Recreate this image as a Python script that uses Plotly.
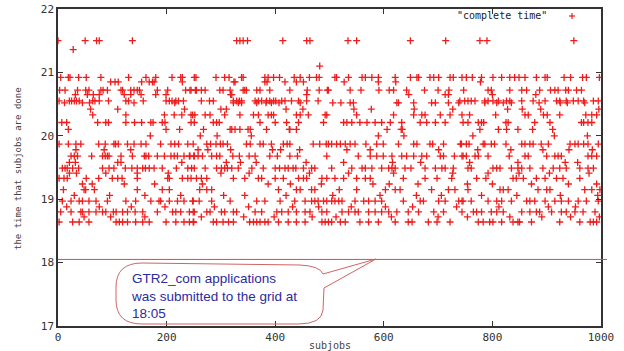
import plotly.graph_objects as go

# ---- data: subjob indices grouped by completion time (hours) ----
L_21_50 = [0, 50, 71, 76, 137, 329, 335, 341, 349, 414, 458, 464, 534, 550, 649, 714, 777, 790, 950]
L_21_36 = [28]
L_21_10 = [482]
L_20_92 = [5, 19, 22, 38, 52, 79, 130, 162, 180, 210, 226, 229, 251, 254, 291, 307, 315, 338, 341, 381, 387,
           397, 408, 435, 446, 463, 476, 481, 510, 513, 535, 560, 566, 578, 590, 621, 649, 661, 664, 685, 692,
           701, 722, 728, 744, 752, 763, 780, 801, 817, 832, 841, 849, 860, 881, 897, 901, 932, 944, 966, 973, 997]
L_20_85 = [97, 105, 111, 154, 168, 174, 177, 229, 324, 326, 381, 385, 418, 439, 452, 527, 590, 622, 778]
L_20_72 = [3, 13, 36, 51, 57, 79, 83, 91, 116, 119, 134, 140, 146, 150, 183, 202, 235, 243, 245, 253, 255, 264,
           271, 298, 304, 317, 341, 344, 347, 366, 372, 390, 427, 459, 481, 496, 498, 538, 558, 591, 610, 618,
           642, 675, 700, 720, 747, 792, 798, 832, 854, 863, 887, 907, 915, 921, 935, 940, 955, 964]
L_20_65 = [32, 54, 65, 76, 122, 134, 153, 180, 199, 318, 320, 458, 646, 713, 719, 800, 880]
L_20_55 = [2, 21, 25, 30, 34, 39, 64, 68, 76, 93, 125, 130, 157, 199, 205, 210, 217, 222, 231, 264, 279, 286,
           323, 329, 334, 338, 363, 369, 375, 384, 390, 397, 401, 412, 418, 430, 443, 458, 479, 740, 749, 755,
           761, 768, 786, 792, 801, 811, 826, 832, 854, 875, 897, 918, 924, 936, 949, 958, 968, 986, 995]
L_20_52 = [12, 45, 58, 140, 215, 323, 332, 338, 366, 383, 393, 407, 446, 506, 521, 538, 544, 624, 627, 655, 688,
           695, 719, 738, 786, 808, 820, 835, 886, 925, 938, 970]
L_20_42 = [60, 110, 233, 300, 310, 420, 451, 545, 577, 656, 727, 828, 855, 889, 996]
L_20_33 = [64, 125, 196, 214, 228, 245, 248, 252, 271, 280, 307, 335, 360, 369, 387, 393, 397, 439, 446, 461,
           492, 495, 550, 618, 655, 670, 676, 704, 722, 744, 758, 806, 860, 866, 894, 901, 924, 972, 983, 992]
L_20_21 = [7, 16, 73, 88, 93, 125, 141, 154, 171, 175, 192, 197, 245, 251, 286, 292, 297, 372, 400, 421, 443,
           489, 526, 532, 541, 556, 569, 584, 596, 612, 633, 667, 679, 695, 713, 746, 755, 774, 780, 784, 825,
           829, 878, 906, 964, 968, 976, 983]
L_20_10 = [19, 199, 224, 268, 317, 320, 326, 335, 350, 354, 384, 426, 427, 439, 606, 632, 634, 777, 811, 826,
           847, 874, 911]
L_20_00 = [170, 262, 293, 356, 590, 637, 764, 914, 975]
L_19_87 = [2, 19, 33, 42, 75, 87, 103, 106, 111, 128, 140, 153, 162, 189, 208, 215, 222, 239, 249, 274, 281,
           291, 299, 304, 312, 347, 354, 372, 378, 393, 415, 422, 427, 470, 482, 494, 498, 504, 513, 520, 529,
           538, 547, 567, 587, 599, 627, 655, 661, 685, 690, 710, 741, 743, 752, 757, 783, 786, 798, 804, 825,
           854, 860, 869, 875, 890, 903, 943, 952, 958, 968, 976, 995]
L_19_78 = [33, 85, 134, 258, 276, 318, 395, 410, 445, 532, 575, 701, 773, 834, 893, 941, 984]
L_19_68 = [24, 30, 36, 62, 82, 87, 91, 94, 116, 137, 159, 162, 167, 183, 196, 208, 214, 220, 232, 242, 243,
           250, 251, 258, 266, 283, 292, 298, 322, 334, 352, 363, 390, 404, 427, 441, 495, 553, 575, 587, 599,
           615, 633, 642, 655, 670, 679, 704, 710, 730, 744, 746, 752, 768, 774, 792, 831, 860, 866, 900, 915,
           921, 927, 976, 983, 992]
L_19_58 = [21, 32, 110, 116, 228, 310, 336, 365, 457, 526, 616, 668, 758, 847, 934, 957]
L_19_49 = [8, 13, 17, 27, 38, 82, 94, 103, 124, 136, 146, 156, 161, 168, 177, 192, 218, 239, 246, 251, 271,
           292, 301, 307, 312, 320, 332, 357, 378, 400, 408, 418, 424, 433, 438, 452, 467, 473, 504, 541, 560,
           566, 578, 596, 609, 615, 621, 639, 650, 676, 695, 707, 713, 728, 755, 761, 801, 808, 814, 835, 847,
           854, 869, 893, 912, 924, 936, 961, 976, 986]
L_19_41 = [21, 34, 88, 146, 203, 300, 352, 463, 535, 618, 727, 792, 849, 905, 978]
L_19_33 = [2, 11, 17, 52, 75, 100, 110, 118, 146, 202, 205, 229, 239, 245, 255, 264, 274, 323, 344, 369, 375,
           400, 415, 443, 452, 458, 486, 495, 510, 526, 550, 566, 575, 636, 676, 698, 725, 771, 788, 838, 844,
           857, 881, 897, 918, 930, 961]
L_19_24 = [45, 63, 122, 178, 266, 387, 428, 485, 580, 610, 663, 754, 800, 872, 940, 992]
L_19_15 = [10, 48, 51, 67, 146, 192, 205, 261, 274, 283, 406, 439, 446, 467, 473, 518, 550, 603, 621, 630,
           688, 719, 731, 755, 814, 820, 829, 884, 900, 906, 970, 983, 998]
L_19_06 = [30, 95, 160, 226, 305, 344, 420, 506, 593, 660, 706, 780, 845, 925, 994]
L_18_97 = [8, 24, 39, 45, 57, 70, 91, 125, 143, 171, 186, 189, 205, 220, 232, 248, 249, 260, 283, 317, 366,
           381, 409, 436, 455, 467, 473, 479, 489, 495, 504, 510, 517, 523, 547, 563, 572, 584, 596, 636, 667,
           673, 701, 713, 738, 744, 746, 761, 792, 808, 817, 835, 863, 869, 878, 897, 915, 927, 940, 958, 973, 995]
L_18_88 = [16, 76, 135, 197, 288, 351, 432, 480, 540, 603, 653, 734, 812, 903, 953]
L_18_80 = [5, 24, 42, 45, 57, 70, 82, 88, 102, 107, 119, 128, 142, 156, 183, 211, 217, 226, 242, 249, 251,
           274, 280, 301, 307, 323, 329, 363, 375, 403, 412, 424, 439, 455, 464, 486, 495, 523, 535, 547, 553,
           572, 584, 596, 609, 624, 645, 664, 692, 710, 744, 765, 771, 780, 798, 808, 820, 854, 869, 881, 887,
           909, 927, 936, 952, 967, 989]
L_18_72 = [48, 97, 160, 264, 342, 398, 468, 512, 614, 700, 754, 832, 891, 944, 997]
L_18_64 = [2, 27, 39, 57, 107, 113, 119, 128, 143, 156, 168, 199, 217, 232, 242, 249, 250, 286, 292, 304, 314,
           323, 353, 360, 366, 372, 381, 387, 406, 424, 439, 455, 486, 492, 498, 504, 520, 529, 556, 572, 590,
           621, 645, 652, 682, 698, 722, 774, 783, 795, 801, 817, 838, 847, 850, 872, 924, 961, 980, 986, 992]

SUBMIT_TIME = 18.05
x_ticks = [0, 200, 400, 600, 800, 1000]
y_ticks = [17, 18, 19, 20, 21, 22]

groups = [
    (21.50, L_21_50), (21.36, L_21_36), (21.10, L_21_10), (20.92, L_20_92), (20.85, L_20_85),
    (20.72, L_20_72), (20.65, L_20_65), (20.55, L_20_55), (20.52, L_20_52), (20.42, L_20_42),
    (20.33, L_20_33), (20.21, L_20_21), (20.10, L_20_10), (20.00, L_20_00), (19.87, L_19_87),
    (19.78, L_19_78), (19.68, L_19_68), (19.58, L_19_58), (19.49, L_19_49), (19.41, L_19_41),
    (19.33, L_19_33), (19.24, L_19_24), (19.15, L_19_15), (19.06, L_19_06), (18.97, L_18_97),
    (18.88, L_18_88), (18.80, L_18_80), (18.72, L_18_72), (18.64, L_18_64),
]
xs, ys = [], []
for level, subs in groups:
    for s in subs:
        xs.append(s)
        ys.append(level)

# ---- layout geometry (pixels) ----
W, H = 624, 351
L, R, T, B = 58, 23, 9, 25
PW, PH = W - L - R, H - T - B

def px(p):
    return (p - L) / PW

def py(p):
    return (H - B - p) / PH

RED = "#f01c1c"
MONO = "DejaVu Sans Mono"

fig = go.Figure()
fig.add_trace(go.Scatter(
    x=xs, y=ys, mode="markers", showlegend=False,
    marker=dict(symbol="cross-thin", size=5, line=dict(width=1.3, color=RED), color=RED),
))

axis_common = dict(showgrid=False, zeroline=False, showline=True, linecolor="#333333", linewidth=1.5,
                   mirror="allticks", ticks="inside", ticklen=5, tickcolor="#333333",
                   tickfont=dict(family=MONO, size=11, color="#333333"))
fig.update_xaxes(range=[0, 1000], tickvals=x_ticks, ticktext=[str(v) for v in x_ticks], **axis_common)
fig.update_yaxes(range=[17, 22], tickvals=y_ticks, ticktext=[str(v) for v in y_ticks], **axis_common)

shapes = []
# submission-time line (extends a little beyond the right axis)
shapes.append(dict(type="line", xref="paper", yref="y", x0=0, x1=px(607), y0=SUBMIT_TIME, y1=SUBMIT_TIME,
                   line=dict(color="#e04848", width=1)))
# callout balloon
pts = ("M {a},{b} L {c},{d} Q {e},{f} {g},{h} L {i},{j} L {k},{l} L {m},{n} Q {o},{p} {q},{r} "
       "L {s},{t} Q {u},{v} {w},{x} L {y},{z} Q {aa},{bb} {a},{b} Z")
path = pts.format(
    a=px(142), b=py(263), c=px(300), d=py(265), e=px(320), f=py(266), g=px(323), h=py(274),
    i=px(376), j=py(259), k=px(324), l=py(288), m=px(323), n=py(310), o=px(322), p=py(324),
    q=px(298), r=py(324), s=px(142), t=py(324), u=px(116), v=py(324), w=px(116), x=py(300),
    y=px(116), z=py(287), aa=px(116), bb=py(263))
shapes.append(dict(type="path", xref="paper", yref="paper", path=path,
                   line=dict(color="#d06464", width=1), fillcolor="rgba(255,255,255,0)"))
# legend key "+"
shapes.append(dict(type="line", xref="paper", yref="paper", x0=px(569), x1=px(575), y0=py(16), y1=py(16),
                   line=dict(color=RED, width=1.2)))
shapes.append(dict(type="line", xref="paper", yref="paper", x0=px(572), x1=px(572), y0=py(13), y1=py(19),
                   line=dict(color=RED, width=1.2)))
fig.update_layout(shapes=shapes)

annotations = [
    dict(text='"complete time"', xref="paper", yref="paper", x=px(549), y=py(16), xanchor="right",
         yanchor="middle", showarrow=False, font=dict(family=MONO, size=10, color="#222222")),
    dict(text="subjobs", xref="paper", yref="paper", x=px(330), y=py(345), xanchor="center",
         yanchor="middle", showarrow=False, font=dict(family=MONO, size=10, color="#444444")),
    dict(text="the time that subjobs are done", xref="paper", yref="paper", x=px(18), y=py(169),
         xanchor="center", yanchor="middle", textangle=-90, showarrow=False,
         font=dict(family=MONO, size=9, color="#444444")),
    dict(text="GTR2_com applications<br>was submitted to the grid at<br>18:05", xref="paper", yref="paper",
         x=px(129), y=py(296), xanchor="left", yanchor="middle", align="left", showarrow=False,
         font=dict(family="Liberation Sans", size=13.5, color="#2b2b9e")),
]
fig.update_layout(annotations=annotations)

fig.update_layout(width=W, height=H, margin=dict(l=L, r=R, t=T, b=B, autoexpand=False),
                  plot_bgcolor="white", paper_bgcolor="white")

fig.write_html("out.html", config={"displayModeBar": False},
               post_script="document.body.style.margin='0px';")
